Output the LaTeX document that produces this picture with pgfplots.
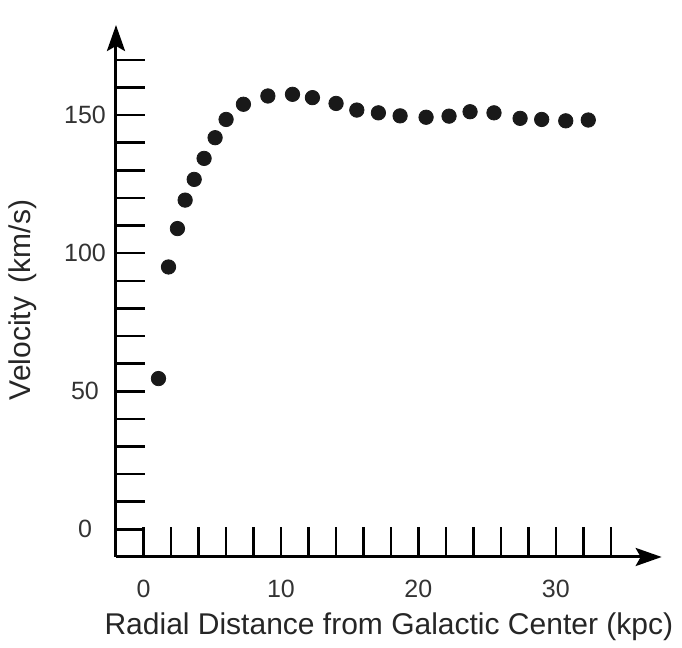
\documentclass[border=0pt]{standalone}
\usepackage{fontspec}
\setmainfont{Liberation Sans}
\usepackage{pgfplots}
\pgfplotsset{compat=1.18}
\usetikzlibrary{arrows.meta}

\begin{document}
\begin{tikzpicture}
% page in px/2: 682x648 px -> 341x324 pt
\useasboundingbox (0,0) rectangle (341pt,324pt);
\begin{axis}[
  at={(58pt,45.5pt)}, anchor=south west,
  scale only axis, width=272.85pt, height=266pt,
  xmin=-2, xmax=37.7, ymin=-10, ymax=182.6,
  axis lines=left, clip=false,
  axis line style={line width=1.5pt, -{Stealth[length=13pt,width=9pt,inset=2.5pt]}},
  tick align=inside,
  major tick length=14.75pt, minor tick length=14.75pt,
  tick style={black, line width=1.25pt},
  xtick={0,10,20,30}, minor xtick={2,4,...,34},
  ytick={0,50,100,150}, minor ytick={10,20,...,170},
  /pgf/number format/assume math mode=true,
  xticklabel style={anchor=center, yshift=-15.75pt, text=black!80, font=\fontsize{12.5}{14}\selectfont},
  yticklabel style={anchor=center, xshift=-15.5pt, text=black!80, font=\fontsize{12.5}{14}\selectfont},
  xlabel={Radial Distance from Galactic Center (kpc)},
  ylabel={Velocity\hspace{0.45em}(km/s)},
  xlabel style={at={(axis description cs:0.5,-0.1466)}, anchor=base, text=black!85, font=\fontsize{15}{18}\selectfont},
  ylabel style={at={(axis description cs:-0.1704,0.483)}, anchor=center, text=black!85, font=\fontsize{15}{18}\selectfont},
]
\addplot[only marks, mark=*, mark size=3.6pt, black!90] coordinates {
  (1.09,54.6) (1.82,95.0) (2.47,108.9) (3.03,119.2) (3.69,126.7)
  (4.41,134.3) (5.21,141.8) (6.01,148.4) (7.27,153.9) (9.05,156.9)
  (10.84,157.5) (12.29,156.3) (14.01,154.2) (15.52,151.8) (17.09,150.8)
  (18.67,149.7) (20.56,149.2) (22.23,149.6) (23.76,151.2) (25.5,150.8)
  (27.4,148.8) (28.97,148.4) (30.72,147.9) (32.36,148.2)};
\end{axis}
\end{tikzpicture}
\end{document}
